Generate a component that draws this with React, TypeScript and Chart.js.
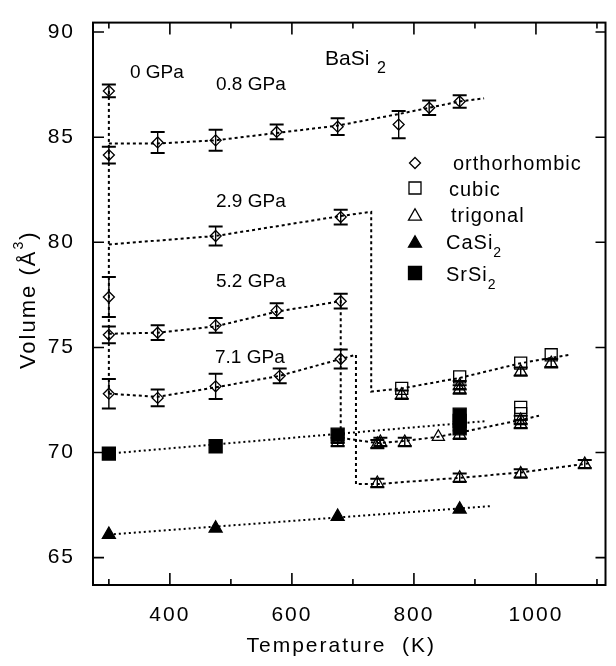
import React, { useEffect, useRef } from 'react';
import { Chart, registerables } from 'chart.js';

Chart.register(...registerables);

const FONT = '"Liberation Sans", Arial, Helvetica, sans-serif';

// ---- axes ----
const xRange = [274, 1114];
const yRange = [63.7, 90.45];
const xMajorTicks = [400, 600, 800, 1000];
const xMinorTicks = [300, 500, 700, 900, 1100];
const yMajorTicks = [65, 70, 75, 80, 85, 90];

// ---- orthorhombic BaSi2 (diamonds, with error bars) ----
const ortho0T = [300, 300, 300, 300, 300];
const ortho0V = [87.2, 84.15, 77.4, 75.6, 72.8];
const ortho0E = [0.3, 0.4, 0.95, 0.4, 0.7];

const ortho08T = [380, 475, 575, 675, 775, 825, 875];
const ortho08V = [84.75, 84.85, 85.25, 85.5, 85.6, 86.4, 86.7];
const ortho08E = [0.5, 0.5, 0.35, 0.4, 0.65, 0.35, 0.3];

const ortho29T = [475, 680];
const ortho29V = [80.3, 81.2];
const ortho29E = [0.45, 0.35];

const ortho52T = [380, 475, 575, 680];
const ortho52V = [75.7, 76.05, 76.75, 77.2];
const ortho52E = [0.35, 0.35, 0.35, 0.35];

const ortho71T = [380, 475, 580, 680];
const ortho71V = [72.6, 73.15, 73.65, 74.45];
const ortho71E = [0.4, 0.6, 0.35, 0.45];

// ---- cubic BaSi2 (open squares) ----
const cubicT = [780, 875, 975, 1025, 975, 975];
const cubicV = [73.05, 73.6, 74.25, 74.65, 72.15, 71.85];

// ---- trigonal BaSi2 (open triangles) ----
const trigT = [780, 875, 875, 975, 1025, 675, 675, 740, 745, 785, 840, 875, 975, 975, 740, 875, 975, 1080];
const trigV = [72.75, 73.0, 73.2, 73.85, 74.25, 70.5, 70.65, 70.4, 70.5, 70.5, 70.75, 70.85, 71.35, 71.55, 68.55, 68.8, 69.0, 69.45];
const trigE = [0.2, 0.2, 0.2, 0.2, 0.2, 0.2, 0.2, 0.2, 0.2, 0.2, 0, 0.2, 0.2, 0.2, 0.2, 0.2, 0.2, 0.2];

// ---- CaSi2 (filled triangles) & SrSi2 (filled squares) ----
const caT = [300, 475, 675, 875];
const caV = [66.1, 66.4, 66.95, 67.3];
const srT = [300, 475, 675, 875, 875, 875];
const srV = [69.95, 70.3, 70.85, 71.15, 71.5, 71.8];

// ---- dotted guide lines ----
const guide0T = [300, 300];
const guide0V = [87.2, 72.8];
const guide08T = [300, 380, 475, 575, 675, 775, 825, 875, 915];
const guide08V = [84.7, 84.7, 84.85, 85.2, 85.55, 86.1, 86.4, 86.7, 86.85];
const guide29T = [300, 475, 680, 730, 730, 780, 875, 975, 1055];
const guide29V = [79.9, 80.3, 81.25, 81.45, 72.9, 73.05, 73.55, 74.25, 74.65];
const guide52T = [300, 380, 475, 575, 680, 680, 740, 785, 840, 875, 975, 1005];
const guide52V = [75.65, 75.7, 76.0, 76.7, 77.2, 70.7, 70.45, 70.55, 70.75, 70.95, 71.55, 71.75];
const guide71T = [300, 380, 475, 580, 680, 705, 705, 740, 875, 975, 1090];
const guide71V = [72.8, 72.65, 73.1, 73.65, 74.45, 74.65, 68.5, 68.5, 68.8, 69.05, 69.5];
const guideSrT = [300, 920];
const guideSrV = [69.95, 71.5];
const guideCaT = [300, 925];
const guideCaV = [66.1, 67.45];

// ---- texts ----
const pressureLabels = ['0 GPa', '0.8 GPa', '2.9 GPa', '5.2 GPa', '7.1 GPa'];
const legendLabels = ['orthorhombic', 'cubic', 'trigonal', 'CaSi', 'SrSi'];
const xTitle = 'Temperature  (K)';
const yTitle = 'Volume (Å';

const pts = (xs: number[], ys: number[]) => xs.map((x, i) => ({ x, y: ys[i] }));

function guide(xs: number[], ys: number[], dash = [3, 3]) {
  return {
    data: pts(xs, ys),
    showLine: true,
    pointRadius: 0,
    borderColor: '#000',
    borderWidth: 2,
    borderDash: dash,
    tension: 0,
    fill: false,
    order: 2,
  };
}

function markers(xs: number[], ys: number[], style: string, radius: number, filled: boolean, errs?: number[]) {
  return {
    data: pts(xs, ys),
    showLine: false,
    pointStyle: style,
    pointRadius: radius,
    pointBorderColor: '#000',
    pointBackgroundColor: filled ? '#000' : 'rgba(0,0,0,0)',
    pointBorderWidth: 1.3,
    errorBars: errs,
    order: 1,
  };
}

function shape(ctx: CanvasRenderingContext2D, kind: string, x: number, y: number, r: number, filled: boolean) {
  ctx.beginPath();
  if (kind === 'diamond') {
    ctx.moveTo(x, y - r); ctx.lineTo(x + r, y); ctx.lineTo(x, y + r); ctx.lineTo(x - r, y); ctx.closePath();
  } else if (kind === 'square') {
    ctx.rect(x - r, y - r, 2 * r, 2 * r);
  } else {
    const h = r * 1.6;
    ctx.moveTo(x, y - h / 2 - 1); ctx.lineTo(x + r, y + h / 2); ctx.lineTo(x - r, y + h / 2); ctx.closePath();
  }
  if (filled) { ctx.fillStyle = '#000'; ctx.fill(); }
  ctx.strokeStyle = '#000'; ctx.lineWidth = 1.3; ctx.stroke();
}

const decor = {
  id: 'decor',
  beforeDraw(chart: any) {
    chart.ctx.letterSpacing = '2px';
  },
  beforeDatasetsDraw(chart: any) {
    chart.ctx.letterSpacing = '0px';
  },
  afterDatasetsDraw(chart: any) {
    const ctx = chart.ctx as CanvasRenderingContext2D;
    const ys = chart.scales.y;
    ctx.save();
    ctx.strokeStyle = '#000';
    chart.data.datasets.forEach((ds: any, i: number) => {
      const errs = ds.errorBars;
      if (!errs) return;
      const meta = chart.getDatasetMeta(i);
      ds.data.forEach((p: any, j: number) => {
        const e = errs[j];
        if (!e) return;
        const x = meta.data[j].x;
        const y1 = ys.getPixelForValue(p.y + e);
        const y2 = ys.getPixelForValue(p.y - e);
        ctx.lineWidth = 1.4;
        ctx.beginPath(); ctx.moveTo(x, y1); ctx.lineTo(x, y2); ctx.stroke();
        ctx.lineWidth = 2;
        ctx.beginPath();
        ctx.moveTo(x - 7, y1); ctx.lineTo(x + 7, y1);
        ctx.moveTo(x - 7, y2); ctx.lineTo(x + 7, y2);
        ctx.stroke();
      });
    });
    ctx.restore();
  },
  afterDraw(chart: any) {
    const ctx = chart.ctx as CanvasRenderingContext2D;
    const { left, right, top, bottom } = chart.chartArea;
    const xs = chart.scales.x;
    const ys = chart.scales.y;
    ctx.save();
    ctx.letterSpacing = '0px';
    ctx.strokeStyle = '#000';
    ctx.fillStyle = '#000';
    // frame
    ctx.lineWidth = 2;
    ctx.strokeRect(left, top, right - left, bottom - top);
    // inward ticks
    ctx.lineWidth = 1.6;
    ctx.beginPath();
    xMajorTicks.forEach((v) => {
      const x = xs.getPixelForValue(v);
      ctx.moveTo(x, bottom); ctx.lineTo(x, bottom - 12);
      ctx.moveTo(x, top); ctx.lineTo(x, top + 12);
    });
    xMinorTicks.forEach((v) => {
      const x = xs.getPixelForValue(v);
      ctx.moveTo(x, bottom); ctx.lineTo(x, bottom - 6);
      ctx.moveTo(x, top); ctx.lineTo(x, top + 6);
    });
    yMajorTicks.forEach((v) => {
      const y = ys.getPixelForValue(v);
      ctx.moveTo(left, y); ctx.lineTo(left + 11, y);
      ctx.moveTo(right, y); ctx.lineTo(right - 10, y);
    });
    ctx.stroke();

    // axis titles
    ctx.font = `21px ${FONT}`;
    ctx.letterSpacing = '2px';
    ctx.textAlign = 'center';
    ctx.textBaseline = 'alphabetic';
    ctx.fillText(xTitle, (left + right) / 2 - 8, 652);

    ctx.save();
    ctx.translate(35, (top + bottom) / 2 - 4);
    ctx.rotate(-Math.PI / 2);
    ctx.textAlign = 'left';
    ctx.font = `22px ${FONT}`;
    const wa = ctx.measureText(yTitle).width;
    ctx.font = `14px ${FONT}`;
    const wb = ctx.measureText('3').width;
    ctx.font = `22px ${FONT}`;
    const wc = ctx.measureText(')').width;
    let sx = -(wa + wb + wc) / 2;
    ctx.fillText(yTitle, sx, 0);
    sx += wa;
    ctx.font = `14px ${FONT}`;
    ctx.fillText('3', sx, -12);
    sx += wb;
    ctx.font = `22px ${FONT}`;
    ctx.fillText(')', sx, 0);
    ctx.restore();

    // pressure annotations
    ctx.letterSpacing = '0px';
    ctx.textAlign = 'left';
    ctx.font = `19px ${FONT}`;
    const pPos = [[130, 78], [216, 90], [216, 207], [216, 287], [215, 363]];
    pressureLabels.forEach((t, i) => ctx.fillText(t, pPos[i][0], pPos[i][1]));

    // compound name
    ctx.font = `21px ${FONT}`;
    ctx.fillText('BaSi', 325, 65);
    ctx.font = `16px ${FONT}`;
    ctx.fillText('2', 377, 73);

    // legend
    const mx = 415;
    shape(ctx, 'diamond', mx, 163, 5.5, false);
    shape(ctx, 'square', mx, 188, 6, false);
    shape(ctx, 'triangle', mx, 215, 6.5, false);
    shape(ctx, 'triangle', mx, 242, 6.5, true);
    shape(ctx, 'square', mx, 273, 6.5, true);
    ctx.fillStyle = '#000';
    ctx.font = `20px ${FONT}`;
    ctx.letterSpacing = '1px';
    const lPos = [[453, 170], [449, 196], [451, 222], [446, 249], [446, 281]];
    legendLabels.forEach((t, i) => {
      ctx.font = `20px ${FONT}`;
      ctx.fillText(t, lPos[i][0], lPos[i][1]);
      if (i >= 3) {
        const w = ctx.measureText(t).width;
        ctx.font = `14px ${FONT}`;
        ctx.fillText('2', lPos[i][0] + w, lPos[i][1] + 8);
      }
    });
    ctx.restore();
  },
};

export default function App() {
  const ref = useRef<HTMLCanvasElement | null>(null);

  useEffect(() => {
    if (!ref.current) return;
    const chart = new Chart(ref.current, {
      type: 'scatter',
      data: {
        datasets: [
          markers(ortho0T, ortho0V, 'rectRot', 5.5, false, ortho0E),
          markers(ortho08T, ortho08V, 'rectRot', 5.5, false, ortho08E),
          markers(ortho29T, ortho29V, 'rectRot', 5.5, false, ortho29E),
          markers(ortho52T, ortho52V, 'rectRot', 5.5, false, ortho52E),
          markers(ortho71T, ortho71V, 'rectRot', 5.5, false, ortho71E),
          markers(cubicT, cubicV, 'rect', 8.5, false),
          markers(trigT, trigV, 'triangle', 7, false, trigE),
          markers(caT, caV, 'triangle', 7.5, true),
          markers(srT, srV, 'rect', 9.2, true),
          guide(guide0T, guide0V),
          guide(guide08T, guide08V),
          guide(guide29T, guide29V),
          guide(guide52T, guide52V),
          guide(guide71T, guide71V),
          guide(guideSrT, guideSrV, [2, 3]),
          guide(guideCaT, guideCaV, [2, 3]),
        ] as any,
      },
      options: {
        animation: false,
        responsive: false,
        maintainAspectRatio: false,
        layout: { padding: { top: 7, right: 1, left: 0, bottom: 0 } },
        plugins: { legend: { display: false }, tooltip: { enabled: false } },
        scales: {
          x: {
            type: 'linear',
            min: xRange[0],
            max: xRange[1],
            grid: { display: false },
            border: { display: false },
            afterBuildTicks: (s: any) => { s.ticks = xMajorTicks.map((v) => ({ value: v })); },
            afterFit: (s: any) => { s.height = 81; },
            ticks: {
              color: '#000',
              font: { family: FONT, size: 21 },
              padding: 10,
              maxRotation: 0,
              autoSkip: false,
              callback: (v: any) => String(v),
            },
          },
          y: {
            type: 'linear',
            min: yRange[0],
            max: yRange[1],
            grid: { display: false },
            border: { display: false },
            afterBuildTicks: (s: any) => { s.ticks = yMajorTicks.map((v) => ({ value: v })); },
            afterFit: (s: any) => { s.width = 93; },
            ticks: {
              color: '#000',
              font: { family: FONT, size: 21 },
              padding: 10,
              autoSkip: false,
              callback: (v: any) => String(v),
            },
          },
        },
      } as any,
      plugins: [decor as any],
    });
    return () => chart.destroy();
  }, []);

  return (
    <canvas
      ref={ref}
      width={616}
      height={666}
      style={{ position: 'absolute', left: 0, top: 0, width: 616, height: 666, background: '#fff' }}
    />
  );
}
